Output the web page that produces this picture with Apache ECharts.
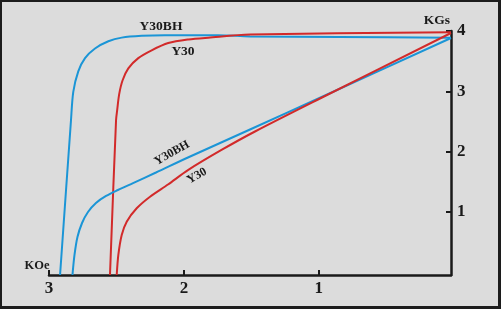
<!DOCTYPE html>
<html>
<head>
<meta charset="utf-8">
<script src="https://cdn.jsdelivr.net/npm/echarts@6/dist/echarts.min.js"></script>
<style>
html,body{margin:0;padding:0;background:#1c1c1c;}
#c{width:501px;height:309px;}
</style>
</head>
<body>
<div id="c"></div>
<script>
// Demagnetization curves: H in KOe (x, reversed), B in KGs (y)
const xTicks = [1, 2, 3];
const yTicks = [1, 2, 3, 4];

// Y30BH intrinsic (upper blue)
const y30bhJ_H = [2.918, 2.837, 2.820, 2.783, 2.733, 2.659, 2.560, 2.461, 2.313, 2.140, 1.747, 1.51, 0.85, 0.02];
const y30bhJ_B = [-0.045, 2.52, 2.99, 3.33, 3.55, 3.71, 3.83, 3.89, 3.92, 3.93, 3.93, 3.91, 3.90, 3.89];

// Y30 intrinsic (upper red)
const y30J_H = [2.548, 2.503, 2.494, 2.480, 2.455, 2.412, 2.338, 2.239, 2.116, 1.967, 1.819, 1.51, 0.02];
const y30J_B = [-0.045, 2.52, 2.70, 2.95, 3.18, 3.38, 3.55, 3.68, 3.80, 3.86, 3.89, 3.94, 3.98];

// Y30BH normal B-H (lower blue)
const y30bhB_H = [2.826, 2.811, 2.789, 2.755, 2.711, 2.652, 2.577, 2.489, 2.377, 2.207, 1.970, 1.510, 0.991, 0.02];
const y30bhB_B = [-0.045, 0.287, 0.585, 0.817, 0.999, 1.149, 1.265, 1.364, 1.479, 1.654, 1.903, 2.367, 2.894, 3.884];

// Y30 normal B-H (lower red)
const y30B_H = [2.498, 2.486, 2.461, 2.424, 2.350, 2.251, 2.118, 1.970, 1.718, 1.473, 0.991, 0.02];
const y30B_B = [-0.045, 0.287, 0.618, 0.839, 1.061, 1.253, 1.455, 1.694, 2.032, 2.334, 2.881, 3.967];

const zip = (a, b) => a.map((v, i) => [v, b[i]]);

const BLUE = '#1b95d6';
const RED = '#d22a2a';
const INK = '#1a1a1a';
const SERIF = '"Liberation Serif", "DejaVu Serif", serif';

const chart = echarts.init(document.getElementById('c'), null, {renderer: 'canvas'});

function line(name, data, color) {
  return {
    name, type: 'line', data, symbol: 'none', smooth: 0.3,
    lineStyle: {color, width: 2}, z: 3
  };
}

chart.setOption({
  animation: false,
  backgroundColor: '#1c1c1c',
  grid: {left: 49, right: 50, top: 31, bottom: 34},
  xAxis: {
    type: 'value', inverse: true, min: 0.02, max: 3,
    axisLine: {show: true, onZero: false, lineStyle: {color: INK, width: 2.5}},
    axisTick: {show: true, inside: true, length: 5, customValues: xTicks, lineStyle: {color: INK, width: 2}},
    axisLabel: {customValues: xTicks, color: INK, fontFamily: SERIF, fontWeight: 'bold', fontSize: 17, margin: 5},
    splitLine: {show: false}
  },
  yAxis: {
    type: 'value', position: 'right', min: -0.045, max: 4,
    axisLine: {show: true, onZero: false, lineStyle: {color: INK, width: 2.5}},
    axisTick: {show: true, inside: true, length: 5, customValues: yTicks, lineStyle: {color: INK, width: 2}},
    axisLabel: {customValues: yTicks, color: INK, fontFamily: SERIF, fontWeight: 'bold', fontSize: 17, margin: 6},
    splitLine: {show: false}
  },
  graphic: [
    {type: 'rect', z: -10, silent: true, shape: {x: 2, y: 2, width: 496, height: 304}, style: {fill: '#dcdcdc'}},
    {type: 'text', x: 161, y: 27, style: {text: 'Y30BH', font: 'bold 13.5px ' + SERIF, fill: INK, align: 'center', verticalAlign: 'middle'}},
    {type: 'text', x: 183, y: 52, style: {text: 'Y30', font: 'bold 13.5px ' + SERIF, fill: INK, align: 'center', verticalAlign: 'middle'}},
    {type: 'text', x: 172, y: 153, rotation: 0.52, style: {text: 'Y30BH', font: 'bold 12px ' + SERIF, fill: INK, align: 'center', verticalAlign: 'middle'}},
    {type: 'text', x: 197, y: 176, rotation: 0.52, style: {text: 'Y30', font: 'bold 12px ' + SERIF, fill: INK, align: 'center', verticalAlign: 'middle'}},
    {type: 'text', x: 437, y: 21, style: {text: 'KGs', font: 'bold 13.5px ' + SERIF, fill: INK, align: 'center', verticalAlign: 'middle'}},
    {type: 'text', x: 37, y: 266, style: {text: 'KOe', font: 'bold 12.5px ' + SERIF, fill: INK, align: 'center', verticalAlign: 'middle'}}
  ],
  series: [
    line('Y30BH J', zip(y30bhJ_H, y30bhJ_B), BLUE),
    line('Y30 J', zip(y30J_H, y30J_B), RED),
    line('Y30BH B', zip(y30bhB_H, y30bhB_B), BLUE),
    line('Y30 B', zip(y30B_H, y30B_B), RED)
  ]
});
</script>
</body>
</html>
